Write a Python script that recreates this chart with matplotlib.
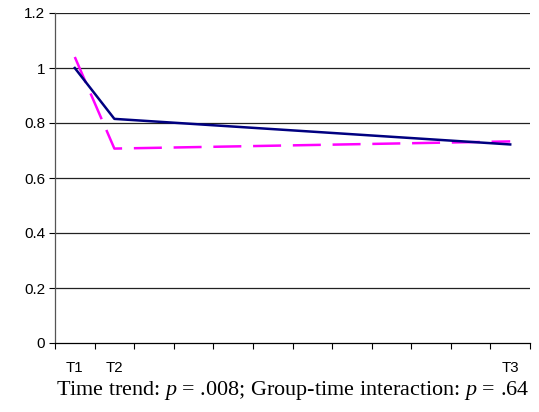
import numpy as np
import matplotlib.pyplot as plt

plt.rcParams['font.family'] = ['Liberation Sans', 'DejaVu Sans']
plt.rcParams['mathtext.fontset'] = 'custom'
plt.rcParams['mathtext.rm'] = 'Liberation Serif'
plt.rcParams['mathtext.it'] = 'Liberation Serif:italic'

# category slots along the time axis (only three are measured)
slots = ["T1", "T2", "", "", "", "", "", "", "", "", "", "T3"]
times = ["T1", "T2", "T3"]
group_a = [1.00, 0.815, 0.722]
group_b = [1.04, 0.707, 0.733]
y_ticks = [0, 0.2, 0.4, 0.6, 0.8, 1.0, 1.2]
y_labels = ["0", "0.2", "0.4", "0.6", "0.8", "1", "1.2"]

x = [slots.index(t) for t in times]

fig = plt.figure(figsize=(5.39, 4.12), dpi=100)
ax = fig.add_axes([55 / 539, 69 / 412, 475 / 539, 330 / 412])

for yv in y_ticks[1:]:
    ax.axhline(yv, color="#222222", lw=0.9, zorder=1)

ax.plot(x, group_a, color="#000080", lw=1.8, zorder=3)
ax.plot(x, group_b, color="#ff00ff", lw=1.8, dashes=(11.2, 4.7), zorder=2)

ax.set_xlim(-0.5, len(slots) - 0.5)
ax.set_ylim(0, 1.2)
ax.set_yticks(y_ticks)
ax.set_yticklabels(y_labels, fontsize=11)
ax.tick_params(axis="y", length=4, width=0.8, pad=3)

ax.set_xticks(x)
ax.set_xticklabels(times, fontsize=10.8)
ax.tick_params(axis="x", which="major", length=0, pad=13)
ax.set_xticks(np.arange(-0.5, len(slots), 1), minor=True)
ax.tick_params(axis="x", which="minor", length=4, width=0.8)

for side in ["top", "right"]:
    ax.spines[side].set_visible(False)
ax.spines["left"].set_color("#555555")
ax.spines["bottom"].set_color("#000000")
ax.spines["left"].set_linewidth(0.9)
ax.spines["bottom"].set_linewidth(0.9)

fig.text(293 / 539, 22 / 412,
         r"Time trend: $p$ = .008; Group-time interaction: $p$ = .64",
         ha="center", va="center", fontsize=15.9, family="Liberation Serif")

fig.savefig("out.png", dpi=100)
